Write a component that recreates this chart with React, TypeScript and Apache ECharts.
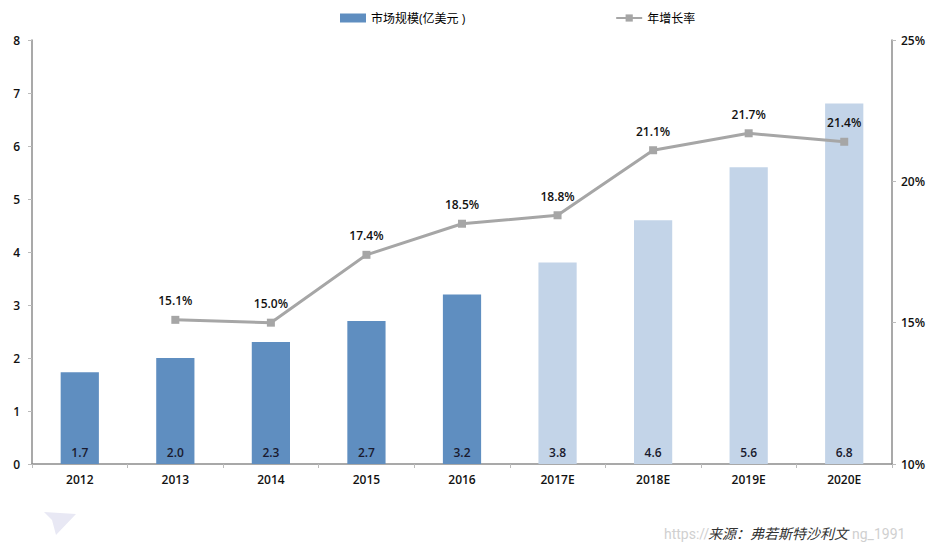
import React, { useEffect, useRef } from "react";
import * as echarts from "echarts";

const categories = ["2012", "2013", "2014", "2015", "2016", "2017E", "2018E", "2019E", "2020E"];
const marketSize = [1.73, 2.0, 2.3, 2.7, 3.2, 3.8, 4.6, 5.6, 6.8];
const marketLabels = ["1.7", "2.0", "2.3", "2.7", "3.2", "3.8", "4.6", "5.6", "6.8"];
const growthRate = [null, 15.1, 15.0, 17.4, 18.5, 18.8, 21.1, 21.7, 21.4];
const forecastFrom = 5;

const FONT = "Open Sans, Noto Sans CJK SC, sans-serif";

export default function App() {
  const ref = useRef<HTMLDivElement>(null);
  useEffect(() => {
    document.body.style.margin = "0";
    const chart = echarts.init(ref.current!, null, { renderer: "svg" });
    chart.setOption({
      animation: false,
      backgroundColor: "#ffffff",
      textStyle: { fontFamily: FONT },
      legend: {
        top: 7,
        left: 335,
        itemGap: 150,
        itemWidth: 26,
        itemHeight: 9,
        textStyle: { fontSize: 12, color: "#000", fontFamily: FONT },
        data: [
          { name: "市场规模(亿美元 )", icon: "rect", itemStyle: { color: "#5f8ec0" } },
          { name: "年增长率" },
        ],
      },
      grid: { left: 32, right: 45, top: 40, bottom: 89, containLabel: false },
      xAxis: {
        type: "category",
        data: categories,
        boundaryGap: true,
        axisLine: { lineStyle: { color: "#8c8c8c", width: 1.5 } },
        axisTick: { show: true, length: 4, lineStyle: { color: "#bbb" } },
        axisLabel: { color: "#111", fontSize: 12, fontWeight: 600, margin: 9, fontFamily: FONT },
      },
      yAxis: [
        {
          type: "value",
          min: 0,
          max: 8,
          interval: 1,
          splitLine: { show: false },
          axisLine: { show: true, lineStyle: { color: "#8c8c8c", width: 1.5 } },
          axisTick: { show: true, length: 4, lineStyle: { color: "#bbb" } },
          axisLabel: { color: "#111", fontSize: 12, fontWeight: 600, margin: 12, fontFamily: FONT },
        },
        {
          type: "value",
          min: 10,
          max: 25,
          interval: 5,
          splitLine: { show: false },
          axisLine: { show: true, lineStyle: { color: "#8c8c8c", width: 1.5 } },
          axisTick: { show: true, length: 4, lineStyle: { color: "#bbb" } },
          axisLabel: { color: "#111", fontSize: 12, fontWeight: 600, margin: 9, formatter: "{value}%", fontFamily: FONT },
        },
      ],
      series: [
        {
          name: "市场规模(亿美元 )",
          type: "bar",
          barWidth: "40%",
          itemStyle: { color: "#5f8ec0" },
          data: marketSize.map((v, i) => ({
            value: v,
            itemStyle: { color: i >= forecastFrom ? "#c3d4e8" : "#5f8ec0" },
          })),
          label: {
            show: true,
            position: "insideBottom",
            distance: 6,
            color: "#1a1a2e",
            fontSize: 12,
            fontWeight: 600,
            fontFamily: FONT,
            formatter: (p: any) => marketLabels[p.dataIndex],
          },
        },
        {
          name: "年增长率",
          type: "line",
          yAxisIndex: 1,
          data: growthRate,
          symbol: "rect",
          symbolSize: 8,
          lineStyle: { color: "#a6a6a6", width: 3 },
          itemStyle: { color: "#a6a6a6" },
          label: {
            show: true,
            position: "top",
            distance: 9,
            color: "#111",
            fontSize: 12,
            fontWeight: 600,
            fontFamily: FONT,
            formatter: (p: any) => p.value.toFixed(1) + "%",
          },
        },
      ],
      graphic: [
        {
          type: "polygon",
          shape: { points: [[44, 512], [76, 514], [56, 535], [52, 520]] },
          style: { fill: "#e8e8f4" },
        },
        {
          type: "text",
          left: 664,
          top: 527,
          style: { text: "https://", fill: "#d0d0d0", fontSize: 14, fontFamily: "Roboto, sans-serif" },
        },
        {
          type: "text",
          left: 852,
          top: 527,
          style: { text: "ng_1991", fill: "#d0d0d0", fontSize: 14, fontFamily: "Roboto, sans-serif" },
        },
        {
          type: "text",
          left: 708,
          top: 526,
          style: {
            text: "来源：弗若斯特沙利文",
            fill: "#333",
            fontSize: 14,
            fontStyle: "italic",
            fontFamily: "Noto Sans CJK SC, sans-serif",
          },
        },
      ],
    });
    return () => chart.dispose();
  }, []);
  return <div ref={ref} style={{ width: 937, height: 553 }} />;
}
